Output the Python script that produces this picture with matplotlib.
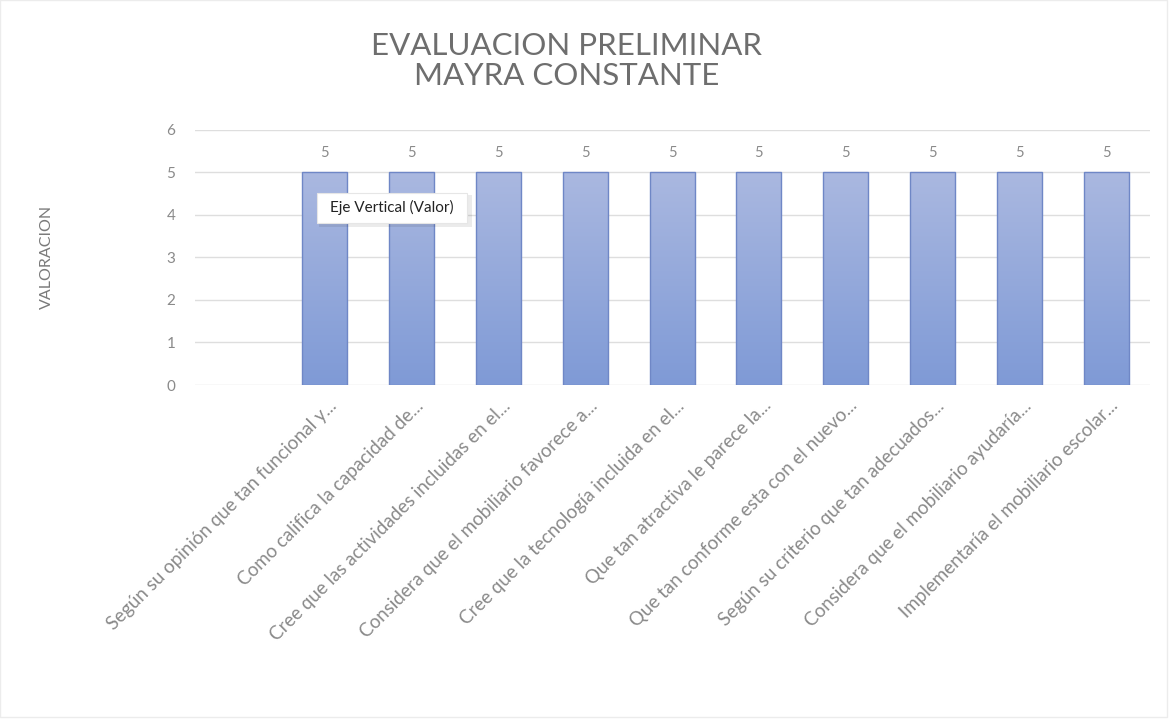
import matplotlib
matplotlib.use("Agg")
import matplotlib.pyplot as plt
import numpy as np
from matplotlib.colors import LinearSegmentedColormap
from matplotlib.patches import Rectangle
from matplotlib.transforms import ScaledTranslation

plt.rcParams['font.family'] = ['Lato', 'DejaVu Sans']

# Questions (first slot is an empty category)
categories = [
    "",
    "Según su opinión que tan funcional y...",
    "Como califica la capacidad de...",
    "Cree que las actividades incluidas en el...",
    "Considera que el mobiliario favorece a...",
    "Cree que la tecnología incluida en el...",
    "Que tan atractiva le parece la...",
    "Que tan conforme esta con el nuevo...",
    "Según su criterio que tan adecuados...",
    "Considera que el mobiliario ayudaría...",
    "Implementaría el mobiliario escolar...",
]
values = [np.nan, 5, 5, 5, 5, 5, 5, 5, 5, 5, 5]
y_ticks = [0, 1, 2, 3, 4, 5, 6]

TEXT_GRAY = "#8a8a8a"
GRID = "#dedede"

fig = plt.figure(figsize=(11.73, 7.21), dpi=100)
ax = fig.add_axes([0.166, 0.466, 0.814, 0.354])

x = np.arange(len(categories))
bars = ax.bar(x, values, width=0.52, facecolor="none",
              edgecolor="#6f87c6", linewidth=1.0, zorder=3)

# vertical gradient fill for each bar
cmap = LinearSegmentedColormap.from_list("barfill", ["#7f9ad6", "#aab8e0"])
grad = np.linspace(0, 1, 256).reshape(-1, 1)
for b, v in zip(bars, values):
    if np.isnan(v):
        continue
    x0, w = b.get_x(), b.get_width()
    im = ax.imshow(grad, cmap=cmap, aspect="auto", origin="lower",
                   extent=(x0, x0 + w, 0, v), zorder=2)
    im.set_clip_path(b)
    ax.text(x0 + w / 2, v + 0.3, f"{v:g}", ha="center", va="bottom",
            fontsize=10.5, color=TEXT_GRAY, zorder=4)

ax.set_xlim(-0.5, len(categories) - 0.5)
ax.set_ylim(0, 6)
ax.set_yticks(y_ticks)
ax.set_yticklabels([str(t) for t in y_ticks], fontsize=11, color=TEXT_GRAY)
ax.set_xticks(x)
ax.set_xticklabels(categories, rotation=45, ha="right", va="center",
                   rotation_mode="anchor", fontsize=13.5, color=TEXT_GRAY)
ax.tick_params(axis="both", length=0)
ax.tick_params(axis="y", pad=14)
ax.tick_params(axis="x", pad=0)
shift = ScaledTranslation(0.09, -0.18, fig.dpi_scale_trans)
for lab in ax.get_xticklabels():
    lab.set_transform(lab.get_transform() + shift)
ax.grid(axis="y", color=GRID, linewidth=1.0, zorder=0)
ax.set_axisbelow(True)
for s in ax.spines.values():
    s.set_visible(False)

fig.text(0.040, 0.643, "VALORACION", rotation=90, ha="center", va="center",
         fontsize=11.5, color="#7a7a7a")

# two-line title
fig.text(0.483, 0.9237, "EVALUACION PRELIMINAR", ha="center", va="baseline",
         fontsize=22.5, color="#6e6e6e")
fig.text(0.483, 0.882, "MAYRA CONSTANTE", ha="center", va="baseline",
         fontsize=22.5, color="#6e6e6e")

# hover tooltip over the value axis, with a soft shadow
shadow = Rectangle((0.272, 0.685), 0.130, 0.044, transform=fig.transFigure,
                   facecolor="#000000", alpha=0.08, edgecolor="none", zorder=9)
fig.add_artist(shadow)
box = Rectangle((0.270, 0.691), 0.128, 0.042, transform=fig.transFigure,
                facecolor="white", edgecolor="#e6e6e6", linewidth=0.8, zorder=10)
fig.add_artist(box)
fig.text(0.334, 0.712, "Eje Vertical (Valor)", ha="center", va="center",
         fontsize=11, color="#222222", zorder=11)

# faint chart-area frame
frame = Rectangle((0.0, 0.006), 0.995, 0.994, transform=fig.transFigure,
                  facecolor="none", edgecolor="#ececec", linewidth=1.0, zorder=1)
fig.add_artist(frame)

fig.savefig("out.png", dpi=100, facecolor="white")
